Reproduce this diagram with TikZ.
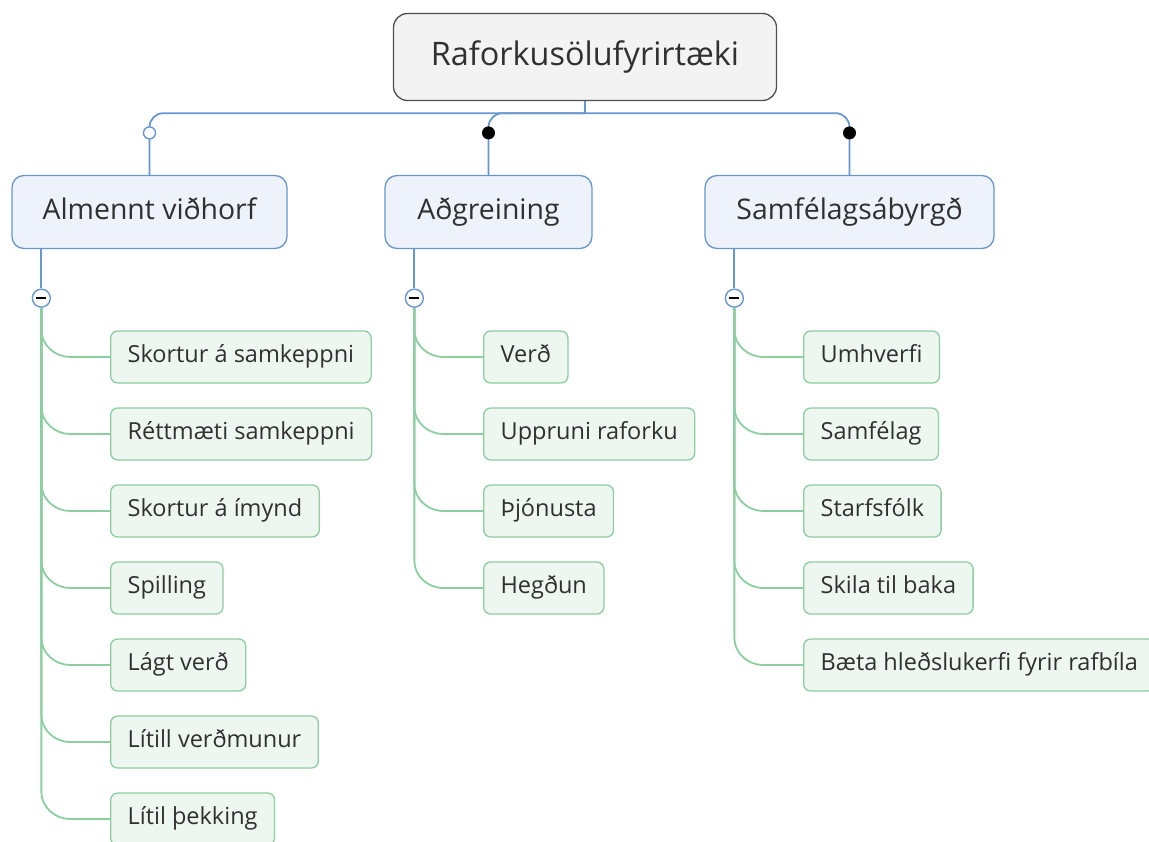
\documentclass[tikz,border=0pt]{standalone}
\usepackage{fontspec}
\setmainfont{Open Sans}
\usetikzlibrary{calc}
\definecolor{rootline}{RGB}{80,80,80}
\definecolor{rootfill}{RGB}{243,243,243}
\definecolor{topicblue}{RGB}{104,150,206}
\definecolor{topicfill}{RGB}{238,243,251}
\definecolor{leafgreen}{RGB}{140,206,160}
\definecolor{leaffill}{RGB}{238,246,240}
\definecolor{inkgray}{RGB}{48,48,48}
\tikzset{
  rootbox/.style={draw=rootline,fill=rootfill,line width=1.3pt,rounded corners=14pt,minimum width=383pt,minimum height=87pt,text height=23.5pt,text depth=7.5pt,text=inkgray,font=\fontsize{32.4}{38}\selectfont},
  topic/.style={draw=topicblue,fill=topicfill,line width=1.3pt,rounded corners=12pt,minimum height=73pt,inner xsep=0pt,text height=20.5pt,text depth=6.5pt,text=inkgray,font=\fontsize{28.4}{34}\selectfont},
  leaf/.style={draw=leafgreen,fill=leaffill,line width=1.3pt,rounded corners=7pt,minimum height=52pt,inner xsep=17pt,anchor=west,text height=17pt,text depth=5.5pt,text=inkgray,font=\fontsize{23.5}{28}\selectfont},
  bough/.style={topicblue,line width=1.8pt},
  twig/.style={leafgreen,line width=1.8pt},
  fold/.style={circle,draw=topicblue,fill=white,line width=1.4pt,minimum size=18pt,inner sep=0pt,
    path picture={\draw[black,line width=1.8pt] ($(path picture bounding box.center)+(-5pt,0)$) -- ($(path picture bounding box.center)+(5pt,0)$);}},
  opendot/.style={circle,draw=topicblue,fill=white,line width=1.4pt,minimum size=12pt,inner sep=0pt},
  fulldot/.style={circle,fill=black,minimum size=13pt,inner sep=0pt}
}

\begin{document}
\begin{tikzpicture}[x=1pt,y=-1pt]
  \useasboundingbox (0,0) rectangle (1149,841);
  % root and main topics
  \node[rootbox] (root) at (585,57) {Raforkusölufyrirtæki};
  \node[topic,minimum width=275pt] (alm) at (149.5,212) {Almennt viðhorf};
  \node[topic,minimum width=207pt] (adg) at (488.5,212) {Aðgreining};
  \node[topic,minimum width=289pt] (sam) at (849.5,212) {Samfélagsábyrgð};
  \coordinate (hub) at ($(root.south)+(0,12)$);
  \draw[bough] (root.south) -- (hub);
  \draw[bough,rounded corners=14pt] (hub) -| node[pos=0.66,opendot] {} (alm.north);
  \draw[bough,rounded corners=14pt] (hub) -| node[pos=0.66,fulldot] {} (adg.north);
  \draw[bough,rounded corners=14pt] (hub) -| node[pos=0.66,fulldot] {} (sam.north);
  % collapse buttons
  \node[fold] (tA) at ($(alm.south west)+(30,49)$) {};
  \node[fold] (tB) at ($(adg.south west)+(30,49)$) {};
  \node[fold] (tC) at ($(sam.south west)+(30,49)$) {};
  \draw[bough] (alm.south -| tA) -- (tA);
  \draw[bough] (adg.south -| tB) -- (tB);
  \draw[bough] (sam.south -| tC) -- (tC);
  % subtopics
  \foreach \txt [count=\i] in {Skortur á samkeppni,Réttmæti samkeppni,Skortur á ímynd,Spilling,Lágt verð,Lítill verðmunur,Lítil þekking}
    \node[leaf] (a\i) at (110,280+77*\i) {\txt};
  \foreach \txt [count=\i] in {Verð,Uppruni raforku,Þjónusta,Hegðun}
    \node[leaf] (b\i) at (483,280+77*\i) {\txt};
  \foreach \txt [count=\i] in {Umhverfi,Samfélag,Starfsfólk,Skila til baka,Bæta hleðslukerfi fyrir rafbíla}
    \node[leaf] (c\i) at (803,280+77*\i) {\txt};
  \foreach \t/\g/\n in {tA/a/7,tB/b/4,tC/c/5}
    \foreach \i in {1,...,\n}
      \draw[twig] (\t.south) -- ($(\t.south |- \g\i.west)+(0,-27)$)
        .. controls +(0,15) and +(-15,0) .. ($(\g\i.west)+(-40,0)$) -- (\g\i.west);
\end{tikzpicture}
\end{document}
